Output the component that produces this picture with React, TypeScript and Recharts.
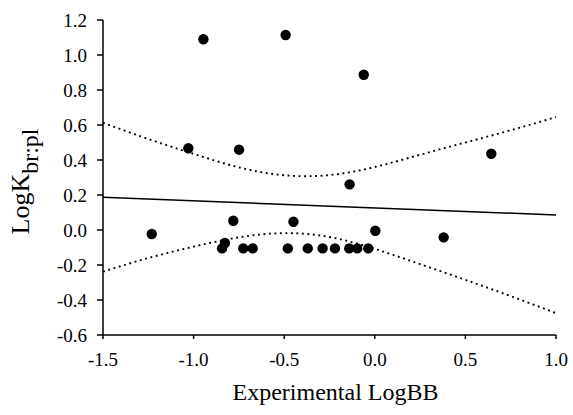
import React from 'react';
import { ComposedChart, Scatter, Line, XAxis, YAxis } from 'recharts';

const pointX = [-1.231, -1.029, -0.946, -0.843, -0.827, -0.781, -0.749, -0.726, -0.674, -0.492, -0.48, -0.449, -0.37, -0.288, -0.22, -0.141, -0.139, -0.097, -0.061, -0.036, 0.003, 0.38, 0.643];
const pointY = [-0.023, 0.467, 1.09, -0.105, -0.074, 0.053, 0.459, -0.105, -0.105, 1.114, -0.105, 0.047, -0.105, -0.105, -0.105, -0.105, 0.261, -0.105, 0.887, -0.105, -0.004, -0.042, 0.436];

const fitX = [-1.5, 1.0];
const fitY = [0.187, 0.086];

const bandX = [-1.5, -1.25, -1.0, -0.75, -0.5, -0.25, 0, 0.25, 0.5, 0.75, 1.0];
const bandUpper = [0.613, 0.52, 0.435, 0.358, 0.313, 0.314, 0.36, 0.43, 0.5, 0.57, 0.645];
const bandLower = [-0.238, -0.16, -0.095, -0.042, -0.018, -0.04, -0.108, -0.195, -0.285, -0.378, -0.475];

const xTicks = [-1.5, -1.0, -0.5, 0, 0.5, 1.0];
const yTicks = [-0.6, -0.4, -0.2, 0, 0.2, 0.4, 0.6, 0.8, 1.0, 1.2];

const points = pointX.map((x, i) => ({ x, y: pointY[i] }));
const fitRows = fitX.map((x, i) => ({ x, fit: fitY[i] }));
const bandRows = bandX.map((x, i) => ({ x, upper: bandUpper[i], lower: bandLower[i] }));

const FONT = '"Liberation Serif", "Times New Roman", serif';

const Dot = (p: any) => <circle cx={p.cx} cy={p.cy} r={5.2} fill="#000" />;

const XTick = (p: any) => (
  <text x={p.x} y={p.y} dy={23} textAnchor="middle" fontFamily={FONT} fontSize={19} fill="#000">
    {Number(p.payload.value).toFixed(1)}
  </text>
);

const YTick = (p: any) => (
  <text x={p.x} y={p.y} dy={6.5} textAnchor="end" fontFamily={FONT} fontSize={19} fill="#000">
    {Number(p.payload.value).toFixed(1)}
  </text>
);

const YTitle = (props: any) => {
  const vb = props.viewBox || {};
  const cx = (vb.x ?? 0) + 29;
  const cy = (vb.y ?? 0) + (vb.height ?? 0) / 2 + 4;
  return (
    <text x={cx} y={cy} transform={`rotate(-90, ${cx}, ${cy})`} textAnchor="middle" fontFamily={FONT} fontSize={26} fill="#000">
      LogK<tspan dy={9} fontSize={24}>br:pl</tspan>
    </text>
  );
};

const XTitle = (props: any) => {
  const vb = props.viewBox || {};
  const cx = (vb.x ?? 0) + (vb.width ?? 0) / 2 + 6;
  const cy = (vb.y ?? 0) + 65;
  return (
    <text x={cx} y={cy} textAnchor="middle" fontFamily={FONT} fontSize={24} fill="#000">
      Experimental LogBB
    </text>
  );
};

export default function App() {
  return (
    <div style={{ position: 'absolute', left: 0, top: 0, background: '#fff' }}>
      <ComposedChart width={573} height={415} margin={{ top: 20, right: 17, bottom: 0, left: 0 }} style={{ fontFamily: FONT }}>
        <XAxis
          type="number"
          dataKey="x"
          domain={[-1.5, 1.0]}
          ticks={xTicks}
          allowDataOverflow
          height={80}
          tickSize={4}
          tickMargin={4}
          stroke="#000"
          strokeWidth={1.5}
          tick={<XTick />}
          label={<XTitle />}
        />
        <YAxis
          type="number"
          domain={[-0.6, 1.2]}
          ticks={yTicks}
          allowDataOverflow
          width={103}
          tickSize={6}
          tickMargin={10}
          stroke="#000"
          strokeWidth={1.5}
          tick={<YTick />}
          label={<YTitle />}
        />
        <Line data={bandRows} dataKey="upper" type="natural" stroke="#000" strokeWidth={1.9} strokeDasharray="1.9 3.6" dot={false} activeDot={false} isAnimationActive={false} />
        <Line data={bandRows} dataKey="lower" type="natural" stroke="#000" strokeWidth={1.9} strokeDasharray="1.9 3.6" dot={false} activeDot={false} isAnimationActive={false} />
        <Line data={fitRows} dataKey="fit" type="linear" stroke="#000" strokeWidth={1.5} dot={false} activeDot={false} isAnimationActive={false} />
        <Scatter data={points} dataKey="y" shape={Dot} isAnimationActive={false} />
      </ComposedChart>
    </div>
  );
}
